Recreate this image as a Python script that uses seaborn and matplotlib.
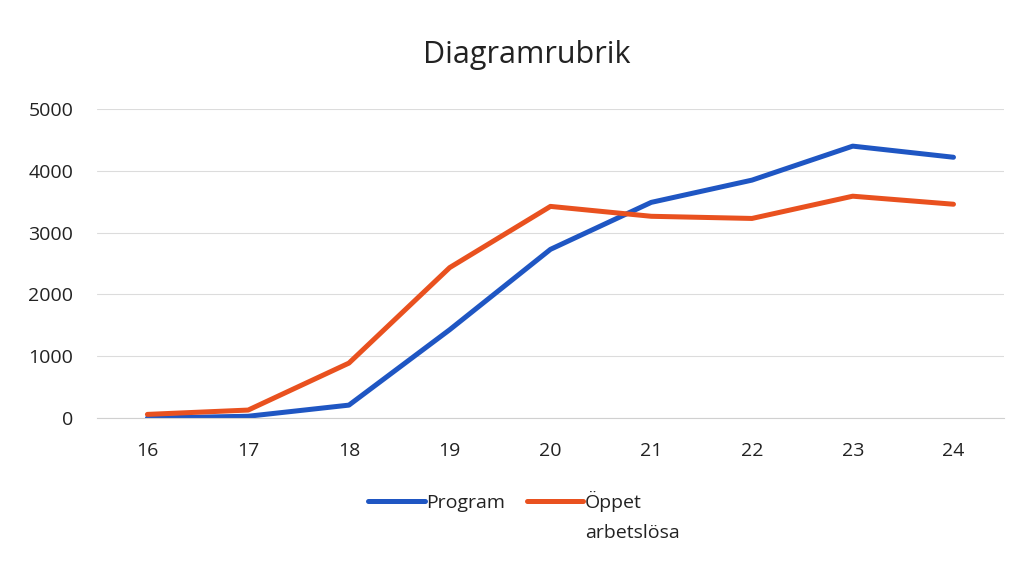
import seaborn as sns
import matplotlib.pyplot as plt
import pandas as pd

ages = ['16', '17', '18', '19', '20', '21', '22', '23', '24']
program = [0, 30, 210, 1430, 2730, 3490, 3850, 4400, 4220]
oppet = [60, 130, 890, 2435, 3425, 3265, 3230, 3590, 3460]

sns.set_style("white")
plt.rcParams['font.family'] = ['Open Sans', 'DejaVu Sans']

df = pd.DataFrame({
    'pos': list(range(len(ages))) * 2,
    'value': program + oppet,
    'serie': ['Program'] * len(ages) + ['Öppet arbetslösa'] * len(ages),
})

fig = plt.figure(figsize=(10.14, 5.65), dpi=100)
ax = fig.add_axes([0.0957, 0.26, 0.8943, 0.547])
sns.lineplot(data=df, x='pos', y='value', hue='serie',
             palette=['#1F56C3', '#E9511F'], linewidth=3.6, ax=ax)

ax.set_xlim(-0.5, len(ages) - 0.5)
ax.set_ylim(0, 5000)
ax.set_xticks(range(len(ages)))
ax.set_xticklabels(ages)
ax.set_yticks(range(0, 5001, 1000))
ax.tick_params(axis='both', labelsize=14, colors='#222222', length=0)
ax.tick_params(axis='x', pad=17)
ax.tick_params(axis='y', pad=17)
ax.grid(axis='y', color='#dcdcdc', linewidth=0.8)
for s in ['top', 'right', 'left']:
    ax.spines[s].set_visible(False)
ax.spines['bottom'].set_color('#d0d0d0')
ax.set_xlabel('')
ax.set_ylabel('')
ax.set_axisbelow(True)

fig.suptitle('Diagramrubrik', x=0.519, y=0.93, fontsize=22, color='#222222')

leg = ax.legend(loc='upper center', bbox_to_anchor=(0.45, -0.18), ncol=2,
                frameon=False, fontsize=14, handlelength=2.9,
                handletextpad=0.1, columnspacing=1.1)
texts = leg.get_texts()
for t in texts:
    t.set_color('#222222')
# second label wraps onto a new line below the handle row, like the original
texts[1].set_text('Öppet')
fig.canvas.draw()
bb = texts[1].get_window_extent().transformed(fig.transFigure.inverted())
fig.text(bb.x0, bb.y0 - 0.021, 'arbetslösa', fontsize=14, color='#222222',
         ha='left', va='top')

fig.savefig('out.png', dpi=100)
